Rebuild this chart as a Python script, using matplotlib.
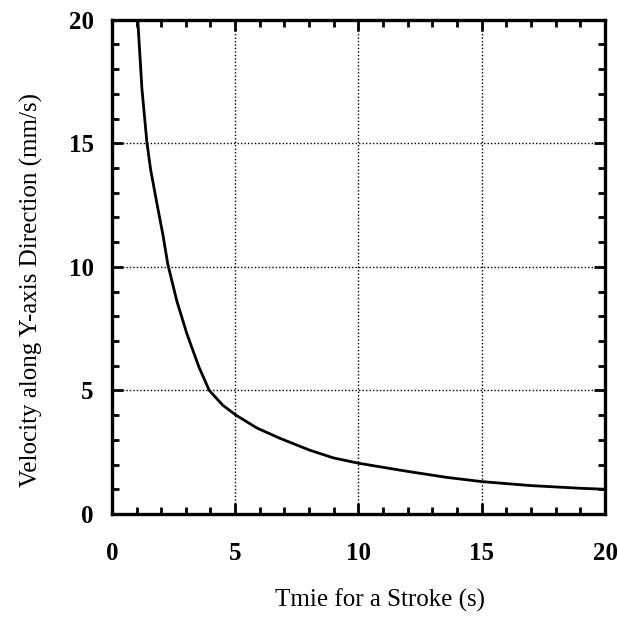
import matplotlib
matplotlib.use("Agg")
import matplotlib.pyplot as plt
from matplotlib.ticker import MultipleLocator

# Data
time_s = [1.05, 1.22, 1.42, 1.57, 1.83, 2.07, 2.27, 2.64, 3.04, 3.53, 3.95, 4.50,
          5.03, 5.88, 6.82, 8.03, 8.98, 10.02, 11.95, 13.58, 15.0, 16.96, 18.99, 20.0]
velocity = [20.0, 17.2, 15.05, 13.95, 12.55, 11.3, 10.1, 8.6, 7.3, 5.95, 5.0, 4.4,
            4.0, 3.48, 3.06, 2.58, 2.27, 2.05, 1.73, 1.48, 1.31, 1.15, 1.04, 1.0]

xticks = [0, 5, 10, 15, 20]
yticks = [0, 5, 10, 15, 20]

plt.rcParams['font.family'] = ['Liberation Serif', 'DejaVu Serif']

fig = plt.figure(figsize=(6.18, 6.17), dpi=100)
ax = fig.add_axes([0.181, 0.167, 0.798, 0.801])

ax.plot(time_s, velocity, color='black', lw=2.0, solid_joinstyle='round')

ax.set_xlim(0, 20)
ax.set_ylim(0, 20)
ax.set_xticks(xticks)
ax.set_yticks(yticks)
ax.xaxis.set_minor_locator(MultipleLocator(1))
ax.yaxis.set_minor_locator(MultipleLocator(1))
ax.tick_params(which='both', direction='in', top=True, right=True, width=2.0, color='black')
ax.tick_params(which='major', length=8, labelsize=18)
ax.tick_params(which='minor', length=5)
ax.tick_params(axis='x', which='major', pad=20)
ax.tick_params(axis='y', which='major', pad=13)
for lbl in ax.get_xticklabels() + ax.get_yticklabels():
    lbl.set_fontweight('bold')

ax.grid(True, which='major', linestyle=(0, (1, 1.5)), color='black', lw=1.0)
for s in ax.spines.values():
    s.set_linewidth(2.4)

ax.set_xlabel('Tmie for a Stroke (s)', fontsize=18)
ax.set_ylabel('Velocity along Y-axis Direction (mm/s)', fontsize=18)
ax.xaxis.set_label_coords(0.544, -0.152)
ax.yaxis.set_label_coords(-0.14, 0.453)

fig.savefig('out.png', dpi=100)
